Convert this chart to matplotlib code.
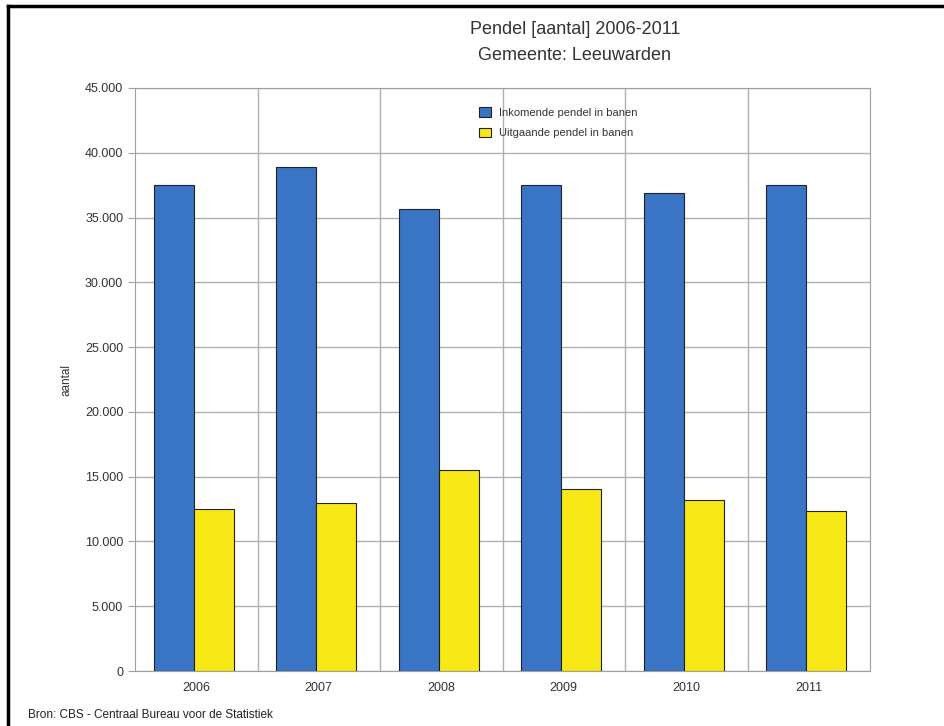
import numpy as np
import matplotlib.pyplot as plt
from matplotlib.lines import Line2D
from matplotlib.ticker import FuncFormatter

years = ["2006", "2007", "2008", "2009", "2010", "2011"]
inkomend = [37500, 38900, 35650, 37500, 36900, 37500]
uitgaand = [12480, 12990, 15500, 14070, 13200, 12370]

plt.rcParams['font.family'] = ['Liberation Sans', 'DejaVu Sans']

fig = plt.figure(figsize=(9.44, 7.26), dpi=100)
ax = fig.add_axes([135/944, 1-671/726, 735/944, 583/726])

x = np.arange(len(years))
w = 0.325
ax.bar(x - w/2 - 0.02, inkomend, w, color='#3a74c4', edgecolor='#222222', linewidth=0.8,
       label='Inkomende pendel in banen', zorder=3)
ax.bar(x + w/2 - 0.02, uitgaand, w, color='#f8e815', edgecolor='#222222', linewidth=0.8,
       label='Uitgaande pendel in banen', zorder=3)

ax.set_xlim(-0.5, len(years) - 0.5)
ax.set_ylim(0, 45000)
ax.set_yticks(np.arange(0, 45001, 5000))
ax.yaxis.set_major_formatter(FuncFormatter(lambda v, p: f"{int(v):,}".replace(",", ".")))
ax.set_xticks(x)
ax.set_xticklabels(years)

# category separators + horizontal grid
for b in np.arange(0.5, len(years) - 0.5, 1):
    ax.axvline(b, color='#b0b0b0', linewidth=1, zorder=1)
ax.grid(axis='y', color='#b0b0b0', linewidth=1, zorder=1)
for s in ax.spines.values():
    s.set_color('#a0a0a0')
ax.tick_params(axis='y', colors='#a0a0a0', labelcolor='#333333', labelsize=9, length=5)
ax.tick_params(axis='x', length=0, labelcolor='#333333', labelsize=9, pad=8)

ax.set_ylabel('aantal', fontsize=8.5, color='#333333', labelpad=9)

leg = ax.legend(loc='upper left', bbox_to_anchor=(0.455, 0.985), frameon=False,
                fontsize=8, handlelength=1.0, handleheight=1.0, labelspacing=0.9,
                handletextpad=0.8)
for t in leg.get_texts():
    t.set_color('#333333')

fig.text(575/944, 1-30/726, 'Pendel [aantal] 2006-2011', ha='center', va='center',
         fontsize=13, color='#333333')
fig.text(575/944, 1-55/726, 'Gemeente: Leeuwarden', ha='center', va='center',
         fontsize=13, color='#333333')
fig.text(28/944, 1-715/726, 'Bron: CBS - Centraal Bureau voor de Statistiek',
         ha='left', va='center', fontsize=8.5, color='#222222')

# black frame (top and left)
fig.add_artist(Line2D([8/944, 1], [1-6/726, 1-6/726], color='black', linewidth=2.5,
                      transform=fig.transFigure))
fig.add_artist(Line2D([8/944, 8/944], [0, 1-6/726], color='black', linewidth=2.5,
                      transform=fig.transFigure))

fig.savefig('out.png', dpi=100)
